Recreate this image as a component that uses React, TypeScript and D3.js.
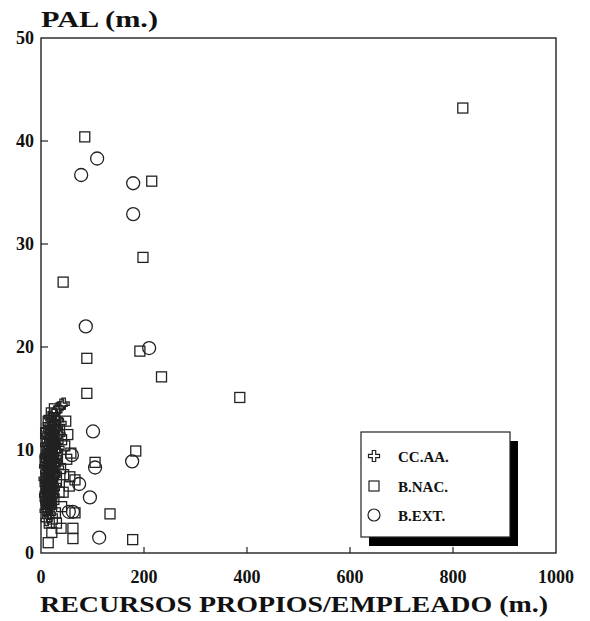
import React from "react";
import * as d3 from "d3";

const xTicks = [0, 200, 400, 600, 800, 1000];
const yTicks = [0, 10, 20, 30, 40, 50];

const ccaa: [number, number][] = [
  [40, 14.4], [35, 14.1], [30, 13.8], [25, 13.5], [20, 13.0], [15, 12.5], [28, 12.0], [22, 11.8],
  [12, 11.5], [18, 11.2], [26, 11.0], [32, 10.8], [10, 10.5], [16, 10.3], [21, 10.1], [14, 9.8],
  [24, 9.6], [9, 9.4], [19, 9.2], [12, 9.0], [17, 8.8], [27, 8.6], [8, 8.4], [13, 8.2], [22, 8.0],
  [10, 7.8], [15, 7.6], [20, 7.4], [7, 7.2], [12, 7.0], [18, 6.8], [9, 6.6], [14, 6.4], [25, 6.2],
  [11, 6.0], [16, 5.8], [8, 5.6], [13, 5.4], [20, 5.2], [10, 5.0], [15, 4.7], [12, 4.4], [9, 4.1],
  [17, 3.8], [14, 3.5], [11, 3.2], [30, 9.9], [34, 10.2], [36, 11.5], [38, 12.6], [44, 14.5],
  [19, 12.2], [23, 9.0], [29, 7.7], [11, 12.0], [33, 8.3],
  [16, 11.9], [21, 11.4], [13, 10.9], [19, 10.6], [23, 10.4], [11, 9.6], [17, 9.9], [21, 9.4],
  [15, 9.2], [25, 8.9], [10, 8.7], [19, 8.4], [14, 8.6], [24, 7.9], [17, 7.7], [12, 7.5], [22, 7.1],
  [16, 7.2], [9, 7.0], [20, 6.5], [13, 6.7], [17, 6.2], [11, 6.4], [22, 5.9], [14, 5.6], [18, 5.4],
  [10, 5.3], [16, 4.9], [13, 4.6], [19, 4.4], [11, 4.8], [15, 4.2], [27, 10.3], [29, 11.3],
  [24, 12.6], [17, 13.2], [33, 12.9],
  [18, 10.9], [14, 10.5], [22, 10.8], [26, 9.9], [20, 9.7], [16, 9.5], [12, 9.3], [23, 8.6],
  [18, 8.1], [21, 8.3], [15, 8.3], [26, 7.5], [19, 7.0], [14, 7.0], [23, 6.6], [16, 6.5],
  [19, 6.0], [13, 5.9], [21, 5.5], [17, 5.1], [14, 5.1], [24, 5.6], [28, 6.6], [31, 8.8],
  [28, 9.3], [25, 11.6], [20, 12.1], [14, 11.4], [31, 12.1], [27, 13.1],
];

const bnac: [number, number][] = [
  [819, 43.2], [85, 40.4], [215, 36.1], [198, 28.7], [43, 26.3], [89, 18.9], [192, 19.6],
  [234, 17.1], [89, 15.5], [386, 15.1], [184, 9.9], [105, 8.8], [134, 3.8], [178, 1.3],
  [14, 1.0], [62, 2.4], [62, 1.4], [39, 2.4], [21, 2.0], [56, 7.4], [66, 7.1], [43, 5.9], [66, 3.9],
  [20, 13.6], [14, 12.8], [28, 12.4], [36, 12.0], [9, 11.6], [40, 11.0], [24, 10.6], [46, 10.4],
  [12, 10.0], [32, 9.6], [18, 9.4], [50, 9.1], [8, 8.9], [27, 8.6], [38, 8.2], [15, 7.9],
  [44, 7.6], [10, 7.3], [30, 7.0], [21, 6.7], [55, 6.5], [13, 6.2], [35, 5.9], [8, 5.5],
  [25, 5.2], [18, 4.8], [40, 4.5], [12, 4.2], [28, 3.9], [22, 3.3], [16, 2.9], [30, 2.9],
  [48, 12.8], [52, 11.5], [58, 9.7], [26, 14.0],
];

const bext: [number, number][] = [
  [109, 38.3], [78, 36.7], [179, 35.9], [179, 32.9], [87, 22.0], [210, 19.9], [101, 11.8],
  [60, 9.5], [177, 8.9], [105, 8.3], [74, 6.7], [95, 5.4], [54, 4.0], [62, 4.0], [113, 1.5],
];

const legendLabels = ["CC.AA.", "B.NAC.", "B.EXT."];

const W = 590;
const H = 621;
const left = 41, right = 556, top = 38, bottom = 553;
const ink = "#222";
const font = "'Liberation Serif', 'Times New Roman', serif";

function plusPath(cx: number, cy: number, s = 5.5, a = 1.7) {
  return `M${cx - a},${cy - s}H${cx + a}V${cy - a}H${cx + s}V${cy + a}H${cx + a}V${cy + s}H${cx - a}V${cy + a}H${cx - s}V${cy - a}H${cx - a}Z`;
}

export default function App() {
  const x = d3.scaleLinear().domain([0, 1000]).range([left, right]);
  const y = d3.scaleLinear().domain([0, 50]).range([bottom, top]);

  const lg = { x: 361, y: 432, w: 149, h: 105 };

  return (
    <svg width={W} height={H} style={{ position: "absolute", left: 0, top: 0, background: "#fff" }}>
      <rect x={0} y={0} width={W} height={H} fill="#fff" />
      <rect x={left} y={top} width={right - left} height={bottom - top} fill="none" stroke={ink} strokeWidth={1.4} />
      {xTicks.slice(1, -1).map((t) => (
        <line key={"xt" + t} x1={x(t)} x2={x(t)} y1={bottom} y2={bottom - 6} stroke={ink} strokeWidth={1.2} />
      ))}
      {yTicks.slice(1, -1).map((t) => (
        <line key={"yt" + t} x1={left} x2={left + 7} y1={y(t)} y2={y(t)} stroke={ink} strokeWidth={1.2} />
      ))}
      {xTicks.map((t) => (
        <text key={"xl" + t} x={x(t)} y={583} textAnchor="middle" fontFamily={font} fontWeight="bold" fontSize={18} fill="#111">
          {t}
        </text>
      ))}
      {yTicks.map((t) => (
        <text key={"yl" + t} x={34} y={y(t) + 6} textAnchor="end" fontFamily={font} fontWeight="bold" fontSize={18} fill="#111">
          {t}
        </text>
      ))}
      <text x={41} y={27} fontFamily={font} fontWeight="bold" fontSize={23} fill="#111" textLength={117} lengthAdjust="spacingAndGlyphs">
        PAL (m.)
      </text>
      <text x={40} y={612} fontFamily={font} fontWeight="bold" fontSize={23} fill="#111" textLength={508} lengthAdjust="spacingAndGlyphs">
        RECURSOS PROPIOS/EMPLEADO (m.)
      </text>
      <g fill="none" stroke={ink} strokeWidth={1.3}>
        {bnac.map(([a, b], i) => (
          <rect key={"s" + i} x={x(a) - 5} y={y(b) - 5} width={10} height={10} />
        ))}
        {ccaa.map(([a, b], i) => (
          <path key={"p" + i} d={plusPath(x(a), y(b))} />
        ))}
        {bext.map(([a, b], i) => (
          <circle key={"c" + i} cx={x(a)} cy={y(b)} r={6.5} />
        ))}
      </g>
      <rect x={lg.x + 8} y={lg.y + 9} width={lg.w} height={lg.h} fill="#000" />
      <rect x={lg.x} y={lg.y} width={lg.w} height={lg.h} fill="#fff" stroke={ink} strokeWidth={1.2} />
      <g fill="none" stroke={ink} strokeWidth={1.2}>
        <path d={plusPath(lg.x + 13, lg.y + 24)} />
        <rect x={lg.x + 8} y={lg.y + 49} width={10} height={10} />
        <circle cx={lg.x + 13} cy={lg.y + 83} r={6} />
      </g>
      {legendLabels.map((l, i) => (
        <text key={l} x={lg.x + 37} y={lg.y + 30 + i * 29.5} fontFamily={font} fontWeight="bold" fontSize={15} fill="#111">
          {l}
        </text>
      ))}
    </svg>
  );
}
